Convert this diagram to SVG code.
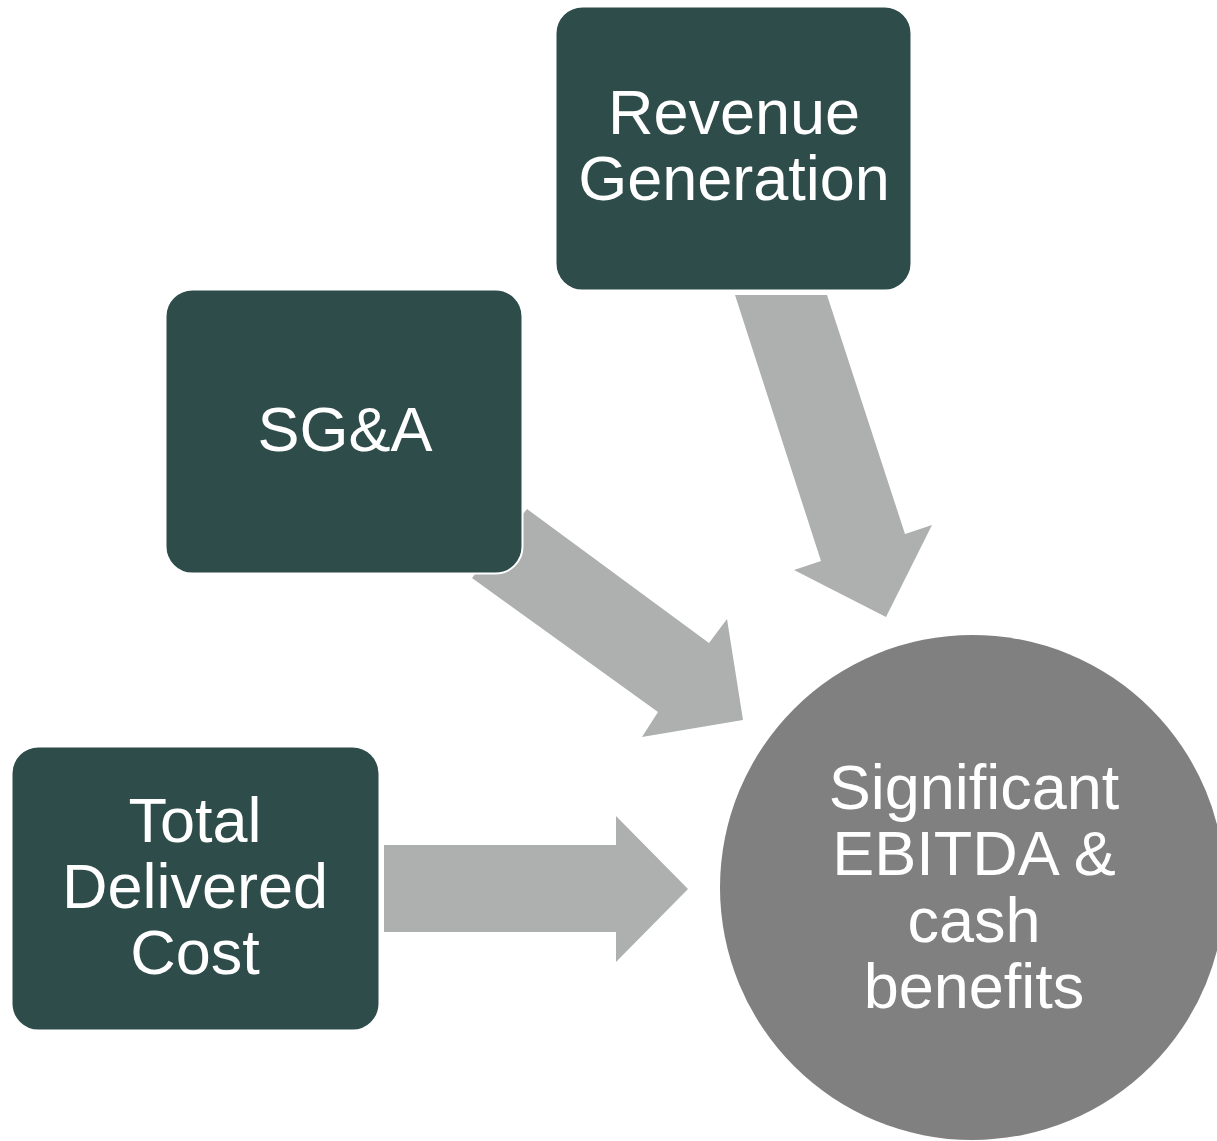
<svg xmlns="http://www.w3.org/2000/svg" width="1217" height="1141" viewBox="0 0 1217 1141">
<style>
.box{fill:#2E4C4A;stroke:#FFFFFF;stroke-width:2}
.arrow{fill:#ADB0AF}
.circ{fill:#808080}
.lbl{font-family:"Liberation Sans",Arial,sans-serif;font-size:63px;fill:#FFFFFF;text-anchor:middle}
</style>
<rect width="1217" height="1141" fill="#FFFFFF"/>
<g id="connectors">
<polygon class="arrow" points="384,845 616,845 616,816 688,889 616,962 616,932 384,932"/>
<polygon class="arrow" points="527,509 709,643 727,619 743,720 642,737 658,712 472,578"/>
<polygon class="arrow" points="735,295 827,295 905,534 932,525 886,617 794,570 821,561"/>
</g>
<g id="node-revenue">
<rect class="box" x="555.5" y="6.5" width="356" height="284" rx="27" ry="27"/>
<text class="lbl" x="734" y="134">Revenue</text>
<text class="lbl" x="734" y="200">Generation</text>
</g>
<g id="node-sga">
<rect class="box" x="165.5" y="289.5" width="357" height="284" rx="27" ry="27"/>
<text class="lbl" x="345" y="451">SG&amp;A</text>
</g>
<g id="node-tdc">
<rect class="box" x="11.5" y="746.5" width="368" height="284" rx="27" ry="27"/>
<text class="lbl" x="195" y="842">Total</text>
<text class="lbl" x="195" y="908">Delivered</text>
<text class="lbl" x="195" y="974">Cost</text>
</g>
<g id="node-ebitda">
<circle class="circ" cx="972.5" cy="887.5" r="252.5"/>
<text class="lbl" x="974" y="809">Significant</text>
<text class="lbl" x="974" y="875">EBITDA &amp;</text>
<text class="lbl" x="974" y="942">cash</text>
<text class="lbl" x="974" y="1008">benefits</text>
</g>
</svg>
